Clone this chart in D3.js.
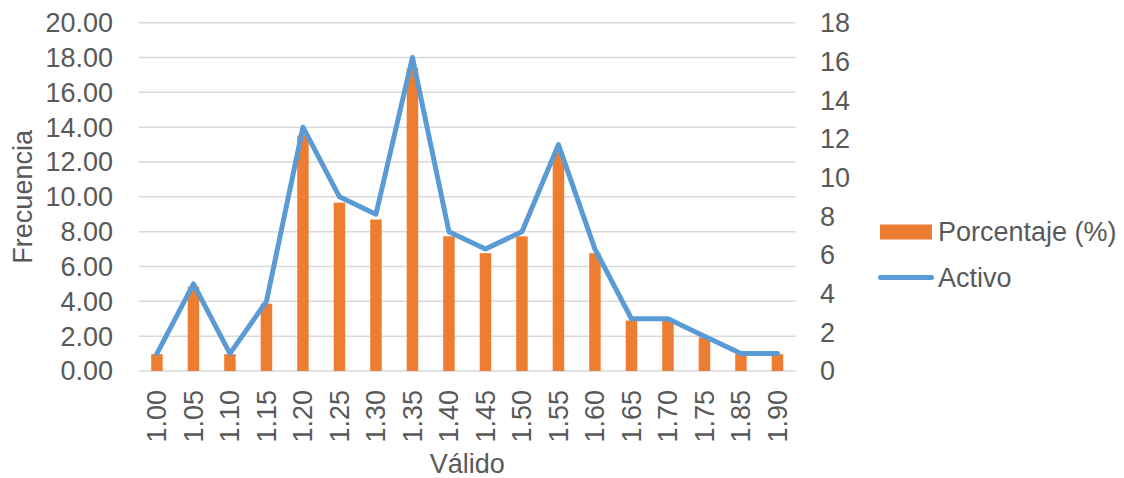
<!DOCTYPE html>
<html><head><meta charset="utf-8">
<script src="https://cdn.jsdelivr.net/npm/d3@7"></script>
<style>body{margin:0;background:#fff}svg{display:block}</style>
</head><body>
<svg id="c" width="1124" height="478"></svg>
<script>
const categories = ["1.00","1.05","1.10","1.15","1.20","1.25","1.30","1.35","1.40","1.45","1.50","1.55","1.60","1.65","1.70","1.75","1.85","1.90"];
const porcentaje = [0.87,4.35,0.87,3.48,12.17,8.70,7.83,15.65,6.96,6.09,6.96,11.30,6.09,2.61,2.61,1.74,0.87,0.87];
const activo = [1,5,1,4,14,10,9,18,8,7,8,13,7,3,3,2,1,1];
const leftTicks = [0,2,4,6,8,10,12,14,16,18,20];
const rightTicks = [0,2,4,6,8,10,12,14,16,18];

const svg = d3.select("#c");
const font = "'Liberation Sans', Arial, sans-serif";
const txt = "#595959";
const fs = 27;
const L = 138.7, R = 795.7, T = 22.7, B = 371;

const x = d3.scaleBand().domain(categories).range([L, R]).paddingInner(0.685).paddingOuter(0.3425);
const yL = d3.scaleLinear().domain([0, 20]).range([B, T]);
const yR = d3.scaleLinear().domain([0, 18]).range([B, T]);
const cx = d => x(d) + x.bandwidth() / 2;

// gridlines
svg.append("g").selectAll("line").data(leftTicks).join("line")
  .attr("x1", L).attr("x2", R).attr("y1", d => yL(d)).attr("y2", d => yL(d))
  .attr("stroke", "#D9D9D9").attr("stroke-width", 1.5);

// left axis labels
svg.append("g").selectAll("text").data(leftTicks).join("text")
  .attr("x", 113).attr("y", d => yL(d)).attr("dy", "0.35em")
  .attr("text-anchor", "end").attr("font-family", font).attr("font-size", fs).attr("fill", txt)
  .text(d => d3.format(".2f")(d));

// right axis labels
svg.append("g").selectAll("text").data(rightTicks).join("text")
  .attr("x", 820).attr("y", d => yR(d)).attr("dy", "0.35em")
  .attr("text-anchor", "start").attr("font-family", font).attr("font-size", fs).attr("fill", txt)
  .text(d => d);

// bars (right axis)
svg.append("g").selectAll("rect").data(categories).join("rect")
  .attr("x", d => x(d)).attr("width", x.bandwidth())
  .attr("y", (d, i) => yR(porcentaje[i])).attr("height", (d, i) => B - yR(porcentaje[i]))
  .attr("fill", "#ED7D31");

// line (left axis)
const line = d3.line().x((d, i) => cx(categories[i])).y(d => yL(d));
svg.append("path").datum(activo).attr("d", line)
  .attr("fill", "none").attr("stroke", "#5B9BD5").attr("stroke-width", 5)
  .attr("stroke-linejoin", "round").attr("stroke-linecap", "round");

// x tick labels
svg.append("g").selectAll("text").data(categories).join("text")
  .attr("transform", d => `translate(${cx(d)},390) rotate(-90)`)
  .attr("dy", "0.35em").attr("text-anchor", "end")
  .attr("font-family", font).attr("font-size", fs).attr("fill", txt)
  .text(d => d);

// axis titles
svg.append("text").attr("x", (L + R) / 2).attr("y", 473)
  .attr("text-anchor", "middle").attr("font-family", font).attr("font-size", fs).attr("fill", txt)
  .text("Válido");
svg.append("text").attr("transform", `translate(32,${(T + B) / 2}) rotate(-90)`)
  .attr("text-anchor", "middle").attr("font-family", font).attr("font-size", fs).attr("fill", txt)
  .text("Frecuencia");

// legend
const lg = svg.append("g");
lg.append("rect").attr("x", 880).attr("y", 224.5).attr("width", 52).attr("height", 15).attr("fill", "#ED7D31");
lg.append("text").attr("x", 938).attr("y", 232).attr("dy", "0.35em")
  .attr("font-family", font).attr("font-size", fs).attr("fill", txt).text("Porcentaje (%)");
lg.append("line").attr("x1", 880.5).attr("x2", 931.5).attr("y1", 277.5).attr("y2", 277.5)
  .attr("stroke", "#5B9BD5").attr("stroke-width", 5).attr("stroke-linecap", "round");
lg.append("text").attr("x", 938).attr("y", 277.5).attr("dy", "0.35em")
  .attr("font-family", font).attr("font-size", fs).attr("fill", txt).text("Activo");
</script>
</body></html>
